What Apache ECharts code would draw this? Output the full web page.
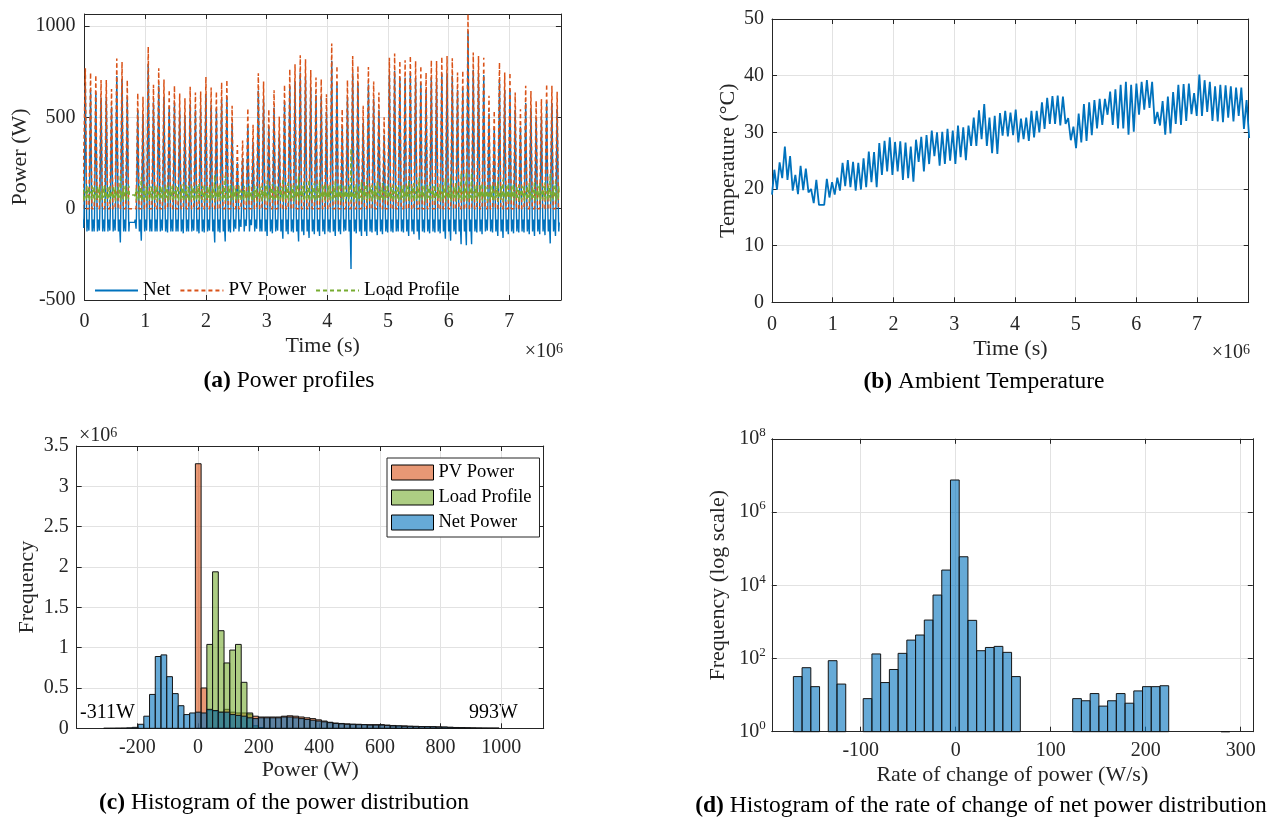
<!DOCTYPE html>
<html><head><meta charset="utf-8">
<script src="https://cdn.jsdelivr.net/npm/echarts@6/dist/echarts.min.js"></script>
<style>html,body{margin:0;padding:0;background:#fff}#c{width:1280px;height:819px}</style>
</head><body><div id="c"></div>
<script>
// ---------------- DATA ----------------
const DAY_S = 86400;
// (a) Power profiles: daily PV peak (W), read per day
const pvPeakW = [769,745,731,704,705,655,822,804,705,0,633,613,887,678,769,707,651,673,631,605,667,636,642,722,664,642,691,705,564,349,373,549,460,742,696,544,649,504,678,764,791,840,818,760,718,709,627,905,782,545,704,836,782,564,776,696,636,500,827,849,809,813,836,809,782,745,813,809,831,836,824,745,755,1066,855,836,827,618,536,800,745,745,636,545,673,645,591,600,682,673,640];
// daily load peak (W) = depth of the daily net-power dip
const loadPeakW = [105,120,125,120,125,120,120,185,125,75,110,175,120,125,125,120,130,125,125,135,125,120,135,130,120,185,130,180,130,110,100,95,90,110,125,150,135,120,165,140,130,180,145,160,140,150,140,130,150,140,120,330,135,150,150,130,145,140,130,130,125,130,150,140,170,130,135,130,135,165,175,140,195,200,195,130,140,120,130,150,160,140,135,130,130,140,150,140,145,190,150];
const pvNoonOffsetDays = 0.14;
const dayOffsetsDays = [-0.5, -0.32, -0.25, 0, 0.25, 0.31, 0.40];
const loadTypicalW = [60, null, 40, 95, 50, 125, 75];
const gapDays = [9];
const gapLoadW = 75;

// (b) Ambient temperature: start value, daily max and min (°C)
const tempStartC = 19.0;
const tempMaxOffsetDays = 0.45, tempMinOffsetDays = 0.95;
const tempMaxC = [23.4,24.7,27.5,25.8,22.5,24.1,23.6,20.0,21.6,17.2,21.8,21.2,22.0,24.6,25.1,24.8,24.6,25.4,26.6,26.5,28.1,28.5,29.1,28.3,28.4,28.2,27.5,28.7,29.2,29.5,30.3,30.0,30.1,30.6,30.3,31.2,30.9,31.2,32.6,33.9,35.0,32.6,32.9,33.4,33.8,33.5,34.0,32.4,32.6,33.8,33.8,35.3,36.1,36.4,36.5,36.3,32.5,31.0,33.3,35.0,35.3,35.7,35.9,35.9,37.2,37.6,38.4,38.9,38.4,38.6,38.9,39.2,38.9,33.6,35.5,36.3,37.1,38.4,38.5,38.6,36.9,40.2,39.2,38.9,38.1,38.4,38.3,38.1,37.9,37.9,35.7];
const tempMinC = [19.9,21.9,21.6,19.7,19.1,19.8,19.4,17.5,17.2,17.2,18.5,19.0,19.7,20.5,20.3,19.7,19.9,20.3,21.2,20.3,22.5,23.1,22.5,23.1,21.6,21.9,21.3,24.8,23.1,24.4,25.8,24.1,24.4,25.0,24.4,25.6,25.1,27.6,27.6,28.8,27.6,26.3,26.2,29.4,29.3,29.5,28.2,28.8,28.5,29.1,30.0,30.6,31.5,31.5,31.2,31.5,28.6,27.2,28.2,28.5,29.5,30.7,31.3,33.1,31.3,30.7,30.7,29.6,30.1,33.1,34.0,34.3,31.5,31.2,29.6,29.8,31.5,31.3,32.0,33.2,32.9,32.9,33.6,32.0,31.9,31.8,32.6,31.9,32.9,30.6,29.0];

// (c) Histogram of power (counts in millions), 69 bins from -311 W to 993 W
const powerBinMinW = -311, powerBinMaxW = 993;
const pvHistM = [0,0,0,0,0,0,0,0,0,0,0,0,0,0,0,0,3.28,0.5,0.22,0.21,0.2,0.235,0.2,0.19,0.19,0.175,0.15,0.14,0.14,0.14,0.14,0.15,0.155,0.15,0.14,0.13,0.12,0.105,0.09,0.075,0.065,0.06,0.055,0.05,0.05,0.045,0.045,0.045,0.045,0.04,0.035,0.03,0.03,0.025,0.025,0.022,0.02,0.02,0.018,0.015,0.012,0.01,0.008,0.006,0.004,0.002,0.001,0.0005,0.0003];
const loadHistM = [0,0,0,0,0,0,0,0,0,0,0,0,0,0,0,0,0,0,1.04,1.94,1.21,0.81,0.97,1.04,0.57,0.19,0.03,0.01,0,0,0,0,0,0,0,0,0,0,0,0,0,0,0,0,0,0,0,0,0,0,0,0,0,0,0,0,0,0,0,0,0,0,0,0,0,0,0,0,0];
const netHistM = [0.0005,0.001,0.002,0.003,0.006,0.012,0.05,0.15,0.42,0.89,0.91,0.64,0.43,0.28,0.17,0.19,0.2,0.19,0.235,0.22,0.2,0.2,0.17,0.16,0.15,0.13,0.12,0.13,0.13,0.13,0.13,0.14,0.14,0.13,0.12,0.11,0.1,0.09,0.08,0.07,0.06,0.055,0.05,0.05,0.045,0.045,0.04,0.04,0.04,0.035,0.03,0.03,0.025,0.025,0.02,0.02,0.02,0.018,0.015,0.015,0.012,0.01,0.008,0.005,0.003,0.002,0.001,0.0005,0.0003];

// (d) Histogram of rate of change of net power, 50 bins
const rateBinMin = -170.9, rateBinMax = 288.6;
const rateHistCounts = [32,56,17,0,87,20,0,0,8,133,22,50,138,318,437,1120,5400,26000,7500000,60000,1100,163,200,214,147,32,0,0,0,0,0,0,8,7,11,5,7,11,6,13,17,17,18,0,0,0,0,0,0,1];

// ---------------- BUILD ----------------
const pvData = [], loadData = [], netData = [];
pvPeakW.forEach((pk, d) => {
  const noon = d + pvNoonOffsetDays;
  dayOffsetsDays.forEach((off, i) => {
    const t = (noon + off) * DAY_S;
    const pv = off === 0 ? pk : 0;
    const load = gapDays.includes(d) ? gapLoadW : (loadTypicalW[i] === null ? loadPeakW[d] : loadTypicalW[i]);
    pvData.push([t, pv]);
    loadData.push([t, load]);
    netData.push([t, pv - load]);
  });
});
const tempData = [[0, tempStartC]];
tempMaxC.forEach((mx, d) => {
  tempData.push([(d + tempMaxOffsetDays) * DAY_S, mx]);
  tempData.push([(d + tempMinOffsetDays) * DAY_S, tempMinC[d]]);
});
function histData(counts, lo, hi) {
  const w = (hi - lo) / counts.length;
  return counts.map((c, i) => [lo + i * w, lo + (i + 1) * w, c]).filter(r => r[2] > 0);
}
function histRender(fill, base) {
  return function (params, api) {
    const a = api.coord([api.value(0), api.value(2)]);
    const b = api.coord([api.value(1), base]);
    return { type: 'rect', shape: { x: a[0], y: a[1], width: b[0] - a[0], height: b[1] - a[1] },
      style: { fill: fill, stroke: '#141414', lineWidth: 1 } };
  };
}

const FONT = 'Liberation Serif';
const TXT = '#262626';
const GRIDC = '#e2e2e2';
const BLUE_F = 'rgba(0,114,189,0.6)', ORANGE_F = 'rgba(217,83,25,0.6)', GREEN_F = 'rgba(119,172,48,0.6)';

function mainAxis(o) {
  const base = {
    type: 'value',
    axisLine: { show: true, onZero: false, lineStyle: { color: TXT, width: 1 } },
    axisTick: { show: true, inside: true, length: 5, lineStyle: { color: TXT } },
    axisLabel: { color: TXT, fontFamily: FONT, fontSize: 20, formatter: v => String(v) },
    splitLine: { show: true, lineStyle: { color: GRIDC, width: 1 } },
    nameLocation: 'middle',
    nameTextStyle: { color: TXT, fontFamily: FONT, fontSize: 22 }
  };
  const r = Object.assign({}, base, o);
  if (o.axisLabel) r.axisLabel = Object.assign({}, base.axisLabel, o.axisLabel);
  return r;
}
function boxAxis(o) {
  return Object.assign({
    type: 'value',
    axisLine: { show: true, onZero: false, lineStyle: { color: TXT, width: 1 } },
    axisTick: { show: true, inside: true, length: 5, lineStyle: { color: TXT } },
    axisLabel: { show: false },
    splitLine: { show: false }
  }, o);
}
const supRich = { s: { fontSize: 13, fontFamily: FONT, color: TXT, verticalAlign: 'top', lineHeight: 13 }, n: { fontSize: 20, fontFamily: FONT, color: TXT, lineHeight: 25 } };
const supRichT = { s: { fontSize: 14, fontFamily: FONT, color: TXT, verticalAlign: 'top', lineHeight: 14 } };

const xA = { min: 0, max: 7.85e6, interval: 1e6 };
const xC = { min: -400, max: 1140, interval: 200 };
const xD = { min: rateBinMin - 22.7, max: 312.8, splitNumber: 5, minInterval: 100, maxInterval: 100 };

const option = {
  animation: false,
  backgroundColor: '#fff',
  grid: [
    { left: 84.6, top: 14, width: 476.3, height: 286, containLabel: false, outerBoundsMode: 'none' },
    { left: 772, top: 19, width: 476.7, height: 283.3, containLabel: false, outerBoundsMode: 'none' },
    { left: 76.7, top: 446, width: 467, height: 282.3, containLabel: false, outerBoundsMode: 'none' },
    { left: 771.8, top: 438.8, width: 481, height: 292.9, containLabel: false, outerBoundsMode: 'none' }
  ],
  xAxis: [
    mainAxis(Object.assign({ gridIndex: 0, position: 'bottom', name: 'Time (s)', nameGap: 35,
      axisLabel: { formatter: v => String(v / 1e6), showMaxLabel: false, margin: 12 } }, xA)),
    boxAxis(Object.assign({ gridIndex: 0, position: 'top' }, xA)),
    mainAxis(Object.assign({ gridIndex: 1, position: 'bottom', name: 'Time (s)', nameGap: 36,
      axisLabel: { formatter: v => String(v / 1e6), showMaxLabel: false, margin: 12 } }, xA)),
    boxAxis(Object.assign({ gridIndex: 1, position: 'top' }, xA)),
    mainAxis(Object.assign({ gridIndex: 2, position: 'bottom', name: 'Power (W)', nameGap: 31,
      axisLabel: { showMinLabel: false, showMaxLabel: false, margin: 9 } }, xC)),
    boxAxis(Object.assign({ gridIndex: 2, position: 'top' }, xC)),
    mainAxis(Object.assign({ gridIndex: 3, position: 'bottom', name: 'Rate of change of power (W/s)', nameGap: 33,
      axisLabel: { showMinLabel: false, showMaxLabel: false, margin: 9 } }, xD)),
    boxAxis(Object.assign({ gridIndex: 3, position: 'top' }, xD))
  ],
  yAxis: [
    mainAxis({ gridIndex: 0, position: 'left', min: -500, max: 1066, interval: 500, name: 'Power (W)', nameGap: 52,
      axisLabel: { showMaxLabel: false, margin: 9 } }),
    boxAxis({ gridIndex: 0, position: 'right', min: -500, max: 1066, interval: 500 }),
    mainAxis({ gridIndex: 1, position: 'left', min: 0, max: 50, interval: 10, name: 'Temperature (°C)', nameGap: 33,
      axisLabel: { margin: 8 } }),
    boxAxis({ gridIndex: 1, position: 'right', min: 0, max: 50, interval: 10 }),
    mainAxis({ gridIndex: 2, position: 'left', min: 0, max: 3.5, interval: 0.5, name: 'Frequency', nameGap: 38,
      axisLabel: { margin: 8 } }),
    boxAxis({ gridIndex: 2, position: 'right', min: 0, max: 3.5, interval: 0.5 }),
    mainAxis({ gridIndex: 3, type: 'log', logBase: 10, position: 'left', min: 1, max: 1e8, interval: 2,
      name: 'Frequency (log scale)', nameGap: 43,
      axisLabel: { margin: 6, formatter: v => '{n|10}{s|' + Math.round(Math.log10(v)) + '}', rich: supRich } }),
    boxAxis({ gridIndex: 3, type: 'log', logBase: 10, position: 'right', min: 1, max: 1e8, interval: 2 })
  ],
  legend: [
    { data: ['Net', 'PV Power', 'Load Profile'], left: 89, top: 276, orient: 'horizontal',
      itemWidth: 43, itemHeight: 14, itemGap: 9, selectedMode: false,
      itemStyle: { opacity: 0 },
      textStyle: { fontFamily: FONT, fontSize: 19, color: '#000' } },
    { data: [
        { name: 'hPV', icon: 'rect', itemStyle: { color: ORANGE_F, borderColor: '#000', borderWidth: 1 } },
        { name: 'hLoad', icon: 'rect', itemStyle: { color: GREEN_F, borderColor: '#000', borderWidth: 1 } },
        { name: 'hNet', icon: 'rect', itemStyle: { color: BLUE_F, borderColor: '#000', borderWidth: 1 } }
      ],
      formatter: n => ({ hPV: 'PV Power', hLoad: 'Load Profile', hNet: 'Net Power' })[n],
      orient: 'vertical', left: 387, top: 458, padding: [5, 8, 5, 4], itemGap: 6, itemWidth: 42, itemHeight: 15,
      borderColor: '#262626', borderWidth: 1, backgroundColor: '#fff', selectedMode: false,
      textStyle: { fontFamily: FONT, fontSize: 18.5, color: '#000' } }
  ],
  series: [
    { type: 'line', name: 'Net', xAxisIndex: 0, yAxisIndex: 0, data: netData, symbol: 'none', showSymbol: false,
      lineStyle: { color: '#0072BD', width: 1.4 }, itemStyle: { color: '#0072BD' }, clip: true },
    { type: 'line', name: 'PV Power', xAxisIndex: 0, yAxisIndex: 0, data: pvData, symbol: 'none', showSymbol: false,
      lineStyle: { color: '#D95319', width: 1.5, type: [4, 3] }, itemStyle: { color: '#D95319' }, clip: true },
    { type: 'line', name: 'Load Profile', xAxisIndex: 0, yAxisIndex: 0, data: loadData, symbol: 'none', showSymbol: false,
      lineStyle: { color: '#77AC30', width: 1.4, type: [4, 3] }, itemStyle: { color: '#77AC30' }, clip: true },
    { type: 'line', name: 'Temperature', xAxisIndex: 2, yAxisIndex: 2, data: tempData, symbol: 'none', showSymbol: false,
      lineStyle: { color: '#0072BD', width: 1.8 }, clip: true },
    { type: 'custom', name: 'hPV', xAxisIndex: 4, yAxisIndex: 4, data: histData(pvHistM, powerBinMinW, powerBinMaxW),
      encode: { x: [0, 1], y: 2 }, renderItem: histRender(ORANGE_F, 0), itemStyle: { color: ORANGE_F } },
    { type: 'custom', name: 'hLoad', xAxisIndex: 4, yAxisIndex: 4, data: histData(loadHistM, powerBinMinW, powerBinMaxW),
      encode: { x: [0, 1], y: 2 }, renderItem: histRender(GREEN_F, 0), itemStyle: { color: GREEN_F } },
    { type: 'custom', name: 'hNet', xAxisIndex: 4, yAxisIndex: 4, data: histData(netHistM, powerBinMinW, powerBinMaxW),
      encode: { x: [0, 1], y: 2 }, renderItem: histRender(BLUE_F, 0), itemStyle: { color: BLUE_F } },
    { type: 'custom', name: 'rate', xAxisIndex: 6, yAxisIndex: 6, data: histData(rateHistCounts, rateBinMin, rateBinMax),
      encode: { x: [0, 1], y: 2 }, renderItem: histRender(BLUE_F, 1), itemStyle: { color: BLUE_F } }
  ],
  graphic: [
    { type: 'text', x: 289, y: 381, style: { text: '{b|(a)} Power profiles', align: 'center', verticalAlign: 'middle',
      font: '23.5px "Liberation Serif"', fill: '#000', rich: { b: { fontWeight: 'bold', fontSize: 23.5, fontFamily: FONT } } } },
    { type: 'text', x: 984, y: 382, style: { text: '{b|(b)} Ambient Temperature', align: 'center', verticalAlign: 'middle',
      font: '23.5px "Liberation Serif"', fill: '#000', rich: { b: { fontWeight: 'bold', fontSize: 23.5, fontFamily: FONT } } } },
    { type: 'text', x: 284, y: 803, style: { text: '{b|(c)} Histogram of the power distribution', align: 'center', verticalAlign: 'middle',
      font: '23.5px "Liberation Serif"', fill: '#000', rich: { b: { fontWeight: 'bold', fontSize: 23.5, fontFamily: FONT } } } },
    { type: 'text', x: 981, y: 806, style: { text: '{b|(d)} Histogram of the rate of change of net power distribution', align: 'center', verticalAlign: 'middle',
      font: '23.5px "Liberation Serif"', fill: '#000', rich: { b: { fontWeight: 'bold', fontSize: 23.5, fontFamily: FONT } } } },
    { type: 'text', x: 563, y: 352, style: { text: '×10{s|6}', align: 'right', verticalAlign: 'middle',
      font: '20px "Liberation Serif"', fill: TXT, rich: supRichT } },
    { type: 'text', x: 1250, y: 353, style: { text: '×10{s|6}', align: 'right', verticalAlign: 'middle',
      font: '20px "Liberation Serif"', fill: TXT, rich: supRichT } },
    { type: 'text', x: 79, y: 436, style: { text: '×10{s|6}', align: 'left', verticalAlign: 'middle',
      font: '20px "Liberation Serif"', fill: TXT, rich: supRichT } },
    { type: 'text', x: 80, y: 713, style: { text: '-311W', align: 'left', verticalAlign: 'middle',
      font: '20px "Liberation Serif"', fill: '#000' } },
    { type: 'text', x: 518, y: 713, style: { text: '993W', align: 'right', verticalAlign: 'middle',
      font: '20px "Liberation Serif"', fill: '#000' } }
  ]
};
const chart = echarts.init(document.getElementById('c'), null, { renderer: 'canvas' });
chart.setOption(option);
</script></body></html>
